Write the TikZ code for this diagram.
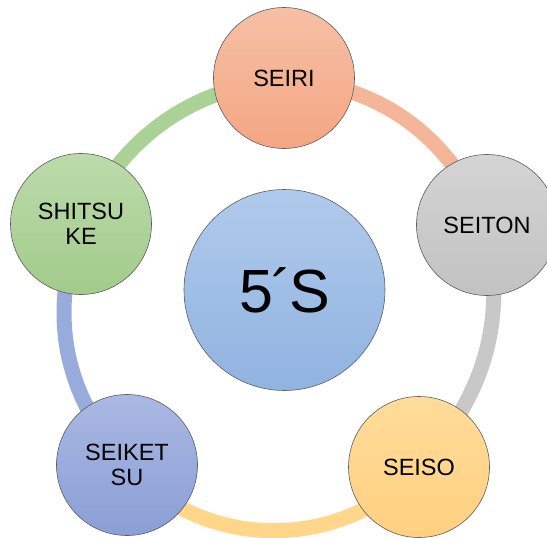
\documentclass[tikz,border=0pt]{standalone}
\usepackage{fontspec}
\setmainfont{Liberation Sans}
\usetikzlibrary{backgrounds}

% fills and ring colours
\definecolor{seiriTop}{HTML}{F6C0A5}
\definecolor{seiriBot}{HTML}{F4A683}
\definecolor{seitonTop}{HTML}{D4D4D4}
\definecolor{seitonBot}{HTML}{C2C2C2}
\definecolor{seisoTop}{HTML}{FFDC9A}
\definecolor{seisoBot}{HTML}{FFD080}
\definecolor{seiketsuTop}{HTML}{AAB8E2}
\definecolor{seiketsuBot}{HTML}{8A9FD6}
\definecolor{shitsukeTop}{HTML}{BCDBAB}
\definecolor{shitsukeBot}{HTML}{A2CB8B}
\definecolor{hubTop}{HTML}{B0CAEC}
\definecolor{hubBot}{HTML}{90B3E0}
\definecolor{ringGreen}{HTML}{AAD296}
\definecolor{ringOrange}{HTML}{F5B598}
\definecolor{ringGray}{HTML}{C8C8C8}
\definecolor{ringYellow}{HTML}{FFD68A}
\definecolor{ringBlue}{HTML}{99ABDA}
\definecolor{rim}{HTML}{5E5E5E}

\tikzset{
  stage/.style={circle, draw=rim, line width=0.6pt, minimum size=141pt,
    inner sep=0pt, align=center, font=\fontsize{23.5}{25}\selectfont},
  hub/.style={circle, draw=rim, line width=0.6pt, minimum size=201pt,
    inner sep=0pt, font=\fontsize{61}{66}\selectfont,
    top color=hubTop, bottom color=hubBot},
  band/.style={line width=15pt, line cap=butt}
}

\begin{document}
\begin{tikzpicture}[x=1pt, y=-1pt]
  \useasboundingbox (0,0) rectangle (547,538);
  \clip (0,0) rectangle (547,538);

  % central circle
  \node[hub] (hub) at (284.5,290) {5\kern-2pt´\kern-2pt S};

  % the five stages
  \node[stage, top color=seiriTop, bottom color=seiriBot] (seiri) at (284,78) {SEIRI};
  \node[stage, top color=seitonTop, bottom color=seitonBot] (seiton) at (487,225) {SEITON};
  \node[stage, top color=seisoTop, bottom color=seisoBot] (seiso) at (419,467) {SEISO};
  \node[stage, top color=seiketsuTop, bottom color=seiketsuBot] (seiketsu) at (127,465) {SEIKET\\SU};
  \node[stage, top color=shitsukeTop, bottom color=shitsukeBot] (shitsuke) at (81,224) {SHITSU\\KE};

  % ring segments behind the circles
  \begin{scope}[on background layer]
    \draw[band, ringGreen]  (shitsuke.center) to[bend left=28] (seiri.center);
    \draw[band, ringOrange] (seiri.center)    to[bend left=31] (seiton.center);
    \draw[band, ringGray]   (seiton.center)   to[bend left=27] (seiso.center);
    \draw[band, ringYellow] (seiso.center)    to[bend left=49] (seiketsu.center);
    \draw[band, ringBlue]   (seiketsu.center) to[bend left=31] (shitsuke.center);
  \end{scope}
\end{tikzpicture}
\end{document}
